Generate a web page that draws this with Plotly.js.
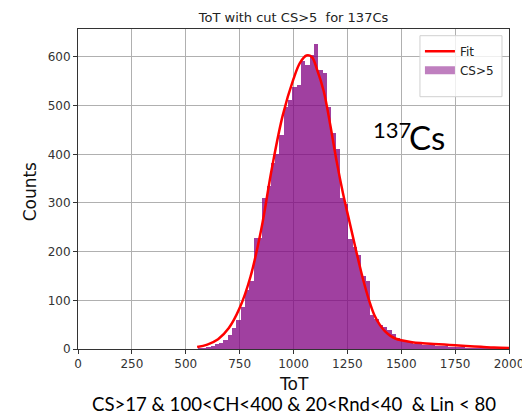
<!DOCTYPE html>
<html>
<head>
<meta charset="utf-8">
<script src="https://cdn.plot.ly/plotly-3.0.1.min.js"></script>
<style>html,body{margin:0;padding:0;background:#fff;}#chart{width:522px;height:414px;}</style>
</head>
<body>
<div id="chart"></div>
<script>
// Histogram bin centers (ToT) and counts for CS>5
const binCenters = [545,565,585,605,625,645,665,685,705,725,745,765,785,805,825,845,865,885,905,925,945,965,985,1005,1025,1045,1065,1085,1105,1125,1145,1165,1185,1205,1225,1245,1265,1285,1305,1325,1345,1365,1385,1405,1425,1445,1465,1485,1505,1525,1545,1565,1585,1605,1625,1645,1665,1685,1705,1725,1745,1765,1785,1805,1825,1845,1865,1885,1905,1925,1945,1965,1985];
const binCounts = [1,2,3,5,7,11,12,19,29,44,60,87,122,139,229,229,310,334,382,400,440,498,512,538,543,591,584,605,627,574,567,498,444,410,310,298,225,210,193,150,140,70,62,50,46,40,30,22,18,15,13,11,10,9,8,8,7,6,6,5,5,4,4,3,3,3,2,3,2,2,4,2,1];
const binWidth = 20;

// Fit curve
const fitX = [553,600,650,700,750,800,850,900,950,1000,1030,1060,1085,1110,1140,1170,1200,1230,1260,1290,1320,1350,1375,1400,1425,1450,1475,1500,1550,1600,1650,1700,1750,1800,1870,1930,2000];
const fitY = [4,9,20,43,84,148,245,372,480,555,588,603,600,573,530,462,386,319,261,203,148,101,70,50,36,27,21,18,14,12,10.5,9,7.5,6,4.5,3,2];

const xTicks = [0,250,500,750,1000,1250,1500,1750,2000];
const yTicks = [0,100,200,300,400,500,600];

const titleText = 'ToT with cut CS&gt;5\u00a0\u00a0for 137Cs';
const bottomText = 'CS&gt;17 &amp; 100&lt;CH&lt;400 &amp; 20&lt;Rnd&lt;40\u00a0\u00a0&amp; Lin &lt; 80';

const dv = 'DejaVu Sans, sans-serif';
const cal = 'Lato, Carlito, sans-serif';

const traces = [
  {type:'bar', x: binCenters, y: binCounts, width: binWidth,
   marker:{color:'purple', opacity:0.75, line:{width:0}}, showlegend:false, hoverinfo:'skip'},
  {type:'scatter', mode:'lines', x: fitX, y: fitY, name:'Fit',
   line:{color:'red', width:2.5, shape:'spline', smoothing:1}},
  {type:'scatter', mode:'lines', x:[null], y:[null], name:'CS&gt;5',
   line:{color:'rgba(128,0,128,0.5)', width:8}}
];

const layout = {
  width:522, height:414,
  margin:{l:78, r:13, t:29, b:65, pad:0},
  paper_bgcolor:'#fff', plot_bgcolor:'#fff',
  bargap:0,
  title:{text:titleText, font:{family:dv, size:13, color:'#222'}, xref:'paper', x:0.5, xanchor:'center', yref:'container', y:1-17/414, yanchor:'middle'},
  xaxis:{range:[0,2000], tickvals:xTicks, ticktext:xTicks.map(String), showgrid:true, gridcolor:'#b0b0b0', gridwidth:1,
         showline:true, linecolor:'#333', linewidth:1, mirror:true, ticks:'outside', ticklen:4, tickcolor:'#333',
         tickfont:{family:dv, size:12, color:'#333'}, zeroline:false, ticklabeloverflow:'allow'},
  yaxis:{range:[0,657.5], tickvals:yTicks, ticktext:yTicks.map(String), showgrid:true, gridcolor:'#b0b0b0', gridwidth:1,
         showline:true, linecolor:'#333', linewidth:1, mirror:true, ticks:'outside', ticklen:4, tickcolor:'#333',
         tickfont:{family:dv, size:12, color:'#333'}, zeroline:false},
  legend:{x:(420-78.3)/430.7, xanchor:'left', y:(349.3-37)/320, yanchor:'top', bgcolor:'rgba(0,0,0,0)', borderwidth:0,
          font:{family:dv, size:12, color:'#222'}, itemwidth:30, tracegroupgap:0},
  shapes:[{type:'rect', xref:'paper', yref:'paper', x0:(420-78.3)/430.7, x1:(502-78.3)/430.7, y0:(349.3-97)/320, y1:(349.3-36)/320,
           line:{color:'#d0d0d0', width:1}, fillcolor:'rgba(255,255,255,0.8)', layer:'above'}],
  annotations:[
    {text:'ToT', xref:'paper', yref:'paper', x:0.5, y:-34.7/320, xanchor:'center', yanchor:'middle', showarrow:false,
     font:{family:dv, size:17, color:'#111'}},
    {text:'Counts', xref:'paper', yref:'paper', x:-48/430.7, y:(349.3-191.7)/320, xanchor:'center', yanchor:'middle', textangle:-90, showarrow:false,
     font:{family:dv, size:17, color:'#111'}},
    {text:bottomText, xref:'paper', yref:'paper', x:0.5, y:-54.7/320, xanchor:'center', yanchor:'middle', showarrow:false,
     font:{family:cal, size:18.6, color:'#000'}},
    {text:'137', xref:'paper', yref:'paper', x:(371-78.3)/430.7, y:(349.3-129.5)/320, xanchor:'left', yanchor:'middle', showarrow:false,
     font:{family:cal, size:22, color:'#000'}},
    {text:'Cs', xref:'paper', yref:'paper', x:(407-78.3)/430.7, y:(349.3-137)/320, xanchor:'left', yanchor:'middle', showarrow:false,
     font:{family:cal, size:33, color:'#000'}}
  ]
};

Plotly.newPlot('chart', traces, layout, {staticPlot:true, displayModeBar:false});
</script>
</body>
</html>
